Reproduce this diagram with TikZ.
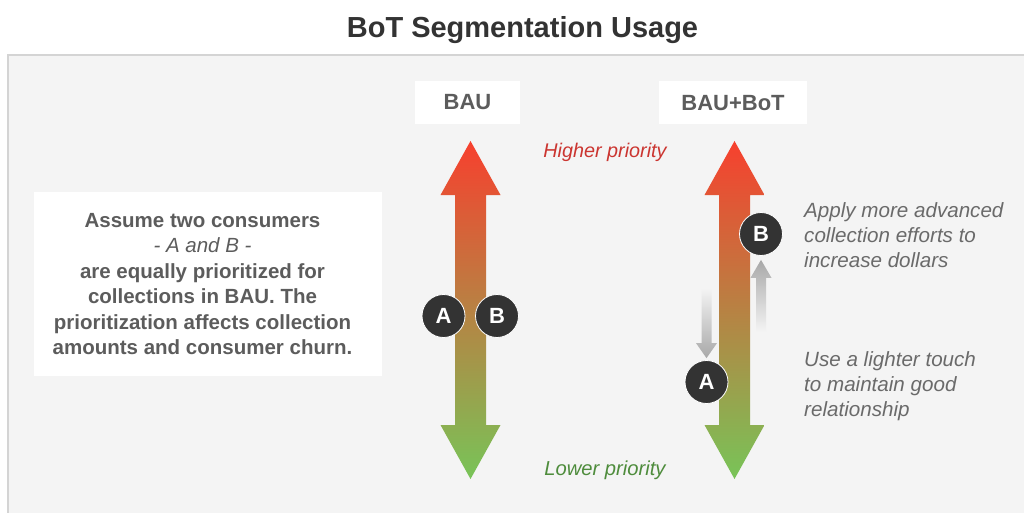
\documentclass[tikz,border=0pt]{standalone}
\usepackage{fontspec}
\setmainfont{Liberation Sans}

\definecolor{panelbg}{HTML}{F4F4F4}
\definecolor{panelline}{HTML}{D4D4D4}
\definecolor{titlegray}{HTML}{333333}
\definecolor{boxtext}{HTML}{5C5C5C}
\definecolor{notetext}{HTML}{6A6A6A}
\definecolor{hired}{HTML}{F7402E}
\definecolor{midbrown}{HTML}{B8804A}
\definecolor{logreen}{HTML}{78C458}
\definecolor{hitext}{HTML}{CB3530}
\definecolor{lotext}{HTML}{4E8C3C}
\definecolor{dot}{HTML}{333333}
\definecolor{hint}{HTML}{A8A8A8}

\begin{document}
\begin{tikzpicture}[x=1pt,y=-1pt,
  headbox/.style={fill=white, minimum height=43pt, inner sep=0pt, text=boxtext,
    font=\fontsize{22}{26}\selectfont\bfseries},
  consumer/.style={circle, fill=dot, draw=white, line width=0.8pt, minimum size=43pt,
    inner sep=0pt, text=white, font=\fontsize{22}{26}\selectfont\bfseries},
  note/.style={anchor=north west, inner sep=0pt, align=left, text=notetext,
    font=\fontsize{20.6}{25}\selectfont\itshape}]

\useasboundingbox (0,0) rectangle (1024,513);
\fill[white] (0,0) rectangle (1024,513);
\fill[panelbg] (8,55) rectangle (1024,513);
\draw[panelline, line width=2pt] (8,513) -- (8,55) -- (1024,55);

\def\priorityarrow(#1){
  \begin{scope}[shift={(#1,0)}]
    \shade[top color=hired, middle color=midbrown, bottom color=logreen]
      (-15.5,195) -- (-30,195) -- (0,141) -- (30,195) -- (15.5,195)
      -- (15.5,425) -- (30,425) -- (0,479) -- (-30,425) -- (-15.5,425) -- cycle;
  \end{scope}
}

\priorityarrow(470.5)
\priorityarrow(734.5)

\node[anchor=base, text=titlegray, font=\fontsize{29}{34}\selectfont\bfseries]
  (title) at (522.5,38) {BoT Segmentation Usage};

\node[headbox, minimum width=105pt] (bau) at (467.5,102.5) {BAU};
\node[headbox, minimum width=148pt] (bot) at (733,103) {BAU+BoT};

\node[fill=white, minimum width=348pt, minimum height=184pt, inner sep=0pt]
  (infobox) at (208,284) {};
\node[align=center, inner sep=0pt, text=boxtext,
  font=\fontsize{20.5}{25.5}\selectfont\bfseries] (info) at (202.5,284)
  {Assume two consumers\\
   {\mdseries\itshape - A and B -}\\
   are equally prioritized for\\
   collections in BAU. The\\
   prioritization affects collection\\
   amounts and consumer churn.};

\node[anchor=base, text=hitext, font=\fontsize{19.8}{23}\selectfont\itshape]
  (higher) at (605,158) {Higher priority};
\node[anchor=base, text=lotext, font=\fontsize{20.2}{23}\selectfont\itshape]
  (lower) at (605,475) {Lower priority};

% consumers
\node[consumer] (a1) at (443.5,316) {A};
\node[consumer] (b1) at (497,316) {B};
\node[consumer] (a2) at (706.5,382) {A};
\node[consumer] (b2) at (761,234) {B};

\begin{scope}[shift={(a2.north)}]
  \shade[top color=panelbg, middle color=hint, bottom color=hint]
    (-5,-72) -- (5,-72) -- (5,-17) -- (10.5,-17) -- (0,-2) -- (-10.5,-17) -- (-5,-17) -- cycle;
\end{scope}
\begin{scope}[shift={(b2.south)}]
  \shade[top color=hint, middle color=hint, bottom color=panelbg]
    (-5,76) -- (5,76) -- (5,22) -- (10.5,22) -- (0,4) -- (-10.5,22) -- (-5,22) -- cycle;
\end{scope}

\node[note] (advanced) at (804,202)
  {Apply more advanced\\collection efforts to\\increase dollars};
\node[note] (lighter) at (804,351)
  {Use a lighter touch\\to maintain good\\relationship};

\end{tikzpicture}
\end{document}
